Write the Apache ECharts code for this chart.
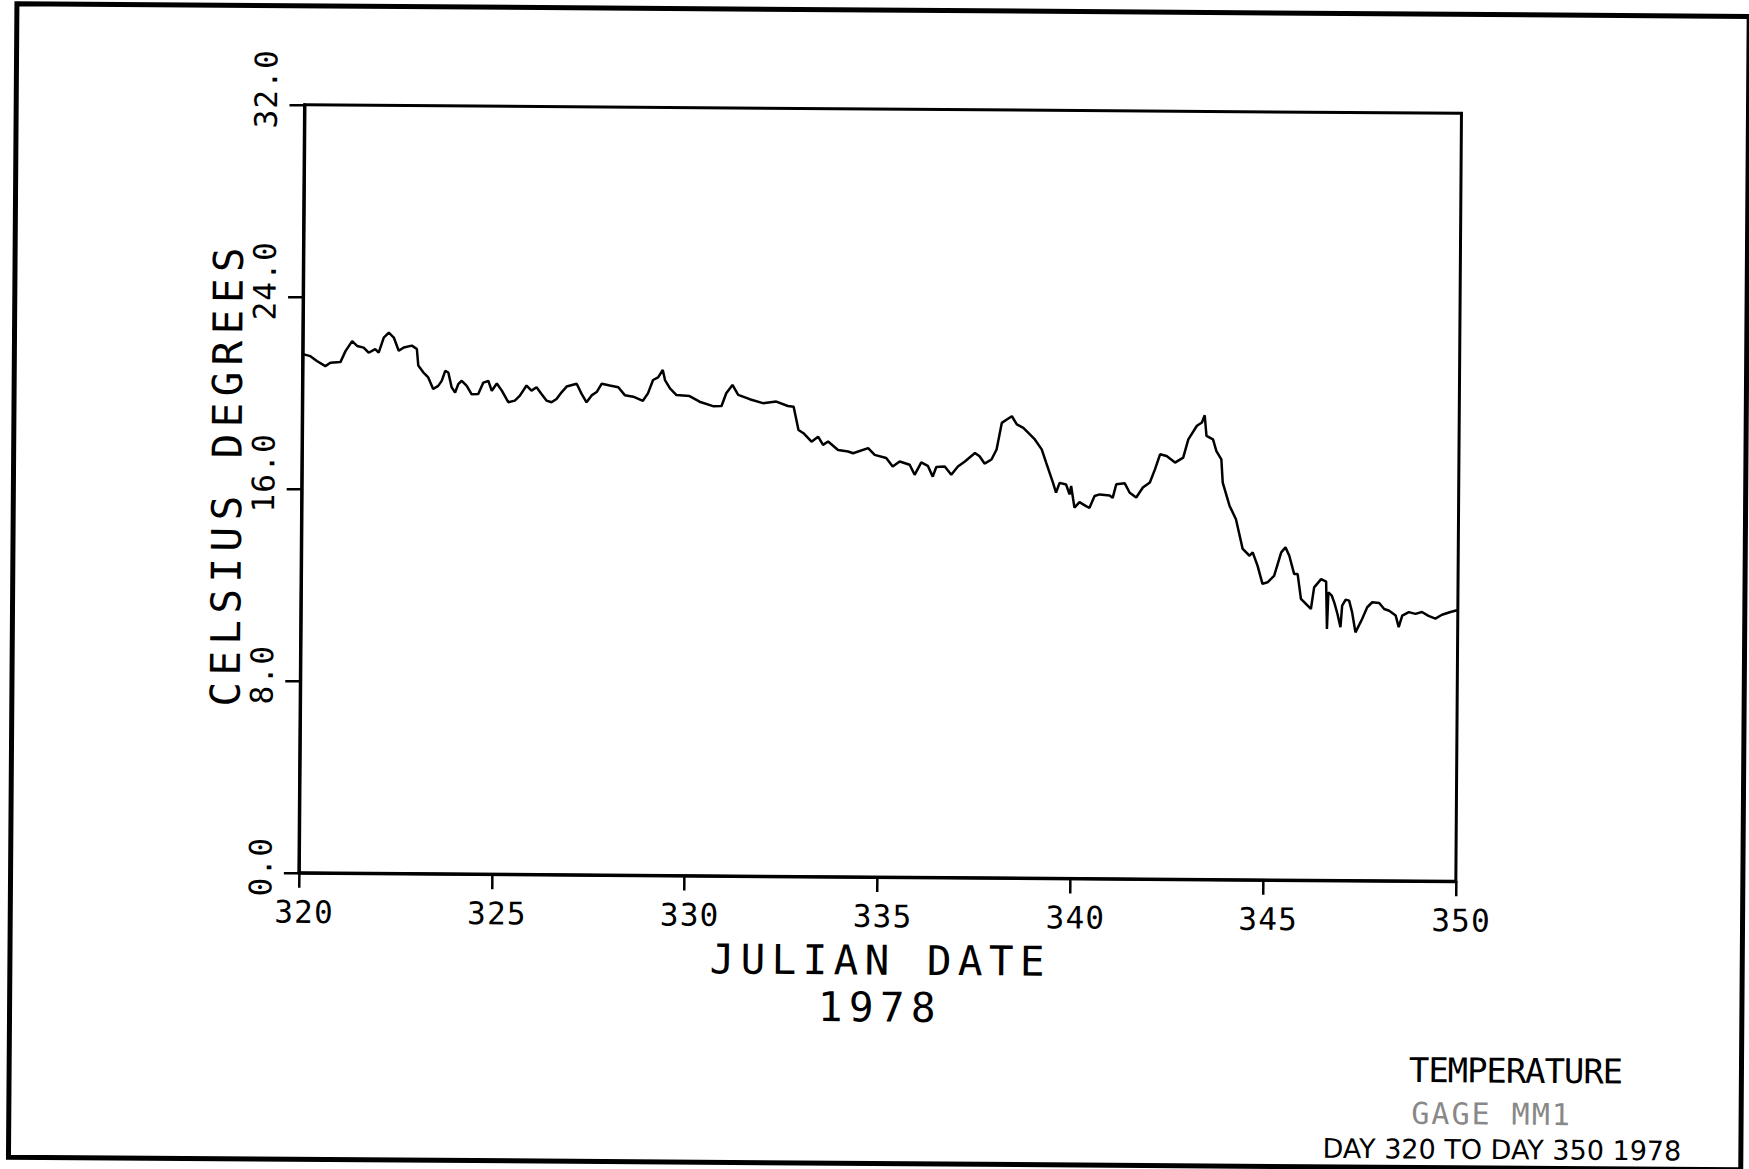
<!DOCTYPE html>
<html>
<head>
<meta charset="utf-8">
<script src="https://cdn.jsdelivr.net/npm/echarts@6/dist/echarts.min.js"></script>
<style>
html, body { margin: 0; padding: 0; background: #fff; overflow: hidden; }
#chart { width: 1749px; height: 1169px; transform: rotate(0.42deg); transform-origin: 50% 50%; }
#chart text[style*="41px"] { letter-spacing: 6.35px; }
#chart text[style*="31px"] { letter-spacing: 1.2px; }
#chart text[style*="34px"] { letter-spacing: -1.1px; }
#chart text[style*="30px"] { letter-spacing: 2px; }
</style>
</head>
<body>
<div id="chart"></div>
<script>
// ---- data ----
const days = [
  320.03, 320.2, 320.37, 320.59, 320.72, 320.98, 321.11, 321.28, 321.41, 321.58,
  321.71, 321.88, 321.97, 322.1, 322.23, 322.36, 322.49, 322.62, 322.83, 322.96,
  323.0, 323.13, 323.26, 323.39, 323.52, 323.61, 323.7, 323.78, 323.87, 323.96,
  324.04, 324.13, 324.26, 324.39, 324.56, 324.69, 324.82, 324.91, 325.04, 325.17,
  325.34, 325.51, 325.64, 325.81, 325.94, 326.07, 326.2, 326.33, 326.46, 326.59,
  326.72, 326.85, 327.11, 327.24, 327.37, 327.5, 327.63, 327.76, 327.97, 328.19,
  328.36, 328.58, 328.83, 328.96, 329.09, 329.22, 329.34, 329.4, 329.53, 329.7,
  330.04, 330.3, 330.65, 330.87, 330.99, 331.15, 331.3, 331.6, 331.94, 332.29,
  332.59, 332.74, 332.87, 333.0, 333.21, 333.38, 333.51, 333.64, 333.9, 334.16,
  334.29, 334.68, 334.85, 335.15, 335.32, 335.5, 335.76, 335.89, 336.06, 336.23,
  336.36, 336.45, 336.67, 336.84, 337.01, 337.19, 337.45, 337.57, 337.7, 337.88,
  338.01, 338.14, 338.27, 338.4, 338.53, 338.7, 339.0, 339.18, 339.3, 339.48,
  339.56, 339.65, 339.82, 339.91, 339.95, 340.04, 340.17, 340.34, 340.43, 340.56,
  340.69, 340.95, 341.03, 341.12, 341.34, 341.47, 341.64, 341.81, 341.99, 342.12,
  342.25, 342.42, 342.64, 342.85, 342.98, 343.2, 343.33, 343.4, 343.45, 343.62,
  343.71, 343.84, 343.88, 344.06, 344.23, 344.41, 344.59, 344.67, 344.8, 344.93,
  345.06, 345.23, 345.41, 345.52, 345.62, 345.75, 345.84, 345.93, 346.06, 346.19,
  346.27, 346.45, 346.58, 346.61, 346.64, 346.73, 346.8, 346.88, 346.96, 347.0,
  347.09, 347.18, 347.26, 347.35, 347.52, 347.65, 347.78, 347.96, 348.09, 348.22,
  348.39, 348.47, 348.56, 348.73, 348.9, 349.07, 349.24, 349.42, 349.59, 349.81,
  349.98
];
const temps = [
  21.6, 21.53, 21.33, 21.12, 21.26, 21.29, 21.75, 22.17, 21.97, 21.9,
  21.69, 21.84, 21.7, 22.32, 22.53, 22.33, 21.78, 21.92, 22.0, 21.86,
  21.17, 20.89, 20.68, 20.2, 20.33, 20.54, 20.96, 20.89, 20.27, 20.06,
  20.41, 20.55, 20.34, 19.99, 20.0, 20.48, 20.55, 20.14, 20.45, 20.15,
  19.67, 19.74, 19.95, 20.37, 20.16, 20.3, 20.02, 19.75, 19.68, 19.82,
  20.1, 20.34, 20.46, 20.04, 19.69, 19.98, 20.12, 20.47, 20.4, 20.33,
  20.0, 19.94, 19.77, 20.08, 20.64, 20.75, 21.06, 20.64, 20.3, 20.02,
  19.98, 19.75, 19.57, 19.58, 20.11, 20.46, 20.05, 19.87, 19.71, 19.78,
  19.6, 19.57, 18.6, 18.47, 18.12, 18.33, 17.99, 18.13, 17.78, 17.72,
  17.65, 17.87, 17.59, 17.46, 17.11, 17.32, 17.19, 16.77, 17.29, 17.15,
  16.7, 17.1, 17.13, 16.78, 17.13, 17.34, 17.7, 17.56, 17.26, 17.43,
  17.85, 18.96, 19.1, 19.24, 18.9, 18.76, 18.28, 17.87, 17.31, 16.48,
  16.07, 16.48, 16.41, 16.0, 16.35, 15.45, 15.68, 15.52, 15.45, 15.94,
  16.01, 15.97, 15.87, 16.44, 16.48, 16.09, 15.89, 16.31, 16.52, 17.07,
  17.7, 17.63, 17.36, 17.57, 18.33, 18.9, 19.04, 19.34, 18.48, 18.34,
  17.85, 17.51, 16.54, 15.58, 15.02, 13.78, 13.5, 13.64, 13.08, 12.33,
  12.4, 12.67, 13.65, 13.86, 13.51, 12.75, 12.75, 11.72, 11.51, 11.3,
  12.2, 12.55, 12.45, 10.47, 12.0, 11.86, 11.55, 11.1, 10.55, 11.45,
  11.7, 11.66, 11.17, 10.34, 10.9, 11.39, 11.6, 11.57, 11.32, 11.25,
  11.05, 10.57, 11.05, 11.2, 11.13, 11.21, 11.05, 10.94, 11.1, 11.22,
  11.29
];
const xRange = [320, 350];
const xStep = 5;
const yRange = [0, 32];
const yStep = 8;
const xTitle = 'JULIAN DATE';
const yearText = '1978';
const yTitle = 'CELSIUS DEGREES';
const noteLines = ['TEMPERATURE', 'GAGE MM1', 'DAY 320 TO DAY 350 1978'];

const FONT = 'DejaVu Sans Mono';
const chart = echarts.init(document.getElementById('chart'), null, { renderer: 'svg' });

chart.setOption({
  animation: false,
  backgroundColor: '#fff',
  grid: {
    left: 301, top: 109, width: 1157, height: 768,
    show: true, borderColor: '#000', borderWidth: 3, backgroundColor: 'transparent',
    containLabel: false, outerBoundsMode: 'none'
  },
  xAxis: {
    type: 'value', min: xRange[0], max: xRange[1], interval: xStep,
    axisLine: { show: true, onZero: false, lineStyle: { color: '#000', width: 3 } },
    axisTick: { show: true, length: 15, lineStyle: { color: '#000', width: 2.5 } },
    axisLabel: {
      color: '#000', fontFamily: FONT, fontSize: 31, margin: 23.5,
      padding: [0, 0, 0, 11], hideOverlap: false
    },
    splitLine: { show: false },
    name: xTitle + '\n' + yearText,
    nameLocation: 'middle', nameGap: 60, nameMoveOverlap: false,
    nameTextStyle: { color: '#000', fontFamily: FONT, fontSize: 41, lineHeight: 47, padding: [0, 0, 0, 7] }
  },
  yAxis: {
    type: 'value', min: yRange[0], max: yRange[1], interval: yStep,
    axisLine: { show: true, onZero: false, lineStyle: { color: '#000', width: 3 } },
    axisTick: { show: true, length: 15, lineStyle: { color: '#000', width: 2.5 } },
    axisLabel: {
      color: '#000', fontFamily: FONT, fontSize: 31, margin: 23,
      rotate: 90, align: 'left', verticalAlign: 'bottom',
      padding: [0, 0, 0, -24], hideOverlap: false,
      formatter: function (v) { return v.toFixed(1); }
    },
    splitLine: { show: false },
    name: yTitle, nameLocation: 'middle', nameRotate: 90, nameGap: 54, nameMoveOverlap: false,
    nameTextStyle: { color: '#000', fontFamily: FONT, fontSize: 41, padding: [0, 0, 0, 28.6] }
  },
  graphic: [
    { type: 'rect', shape: { x: 12.7, y: 10, width: 1732.3, height: 1153.5 },
      style: { fill: 'none', stroke: '#000', lineWidth: 5 }, silent: true },
    { type: 'text', x: 1519, y: 1066,
      style: { text: noteLines[0], font: '34px ' + FONT, fill: '#000', align: 'center', verticalAlign: 'middle' } },
    { type: 'text', x: 1495.5, y: 1109.4,
      style: { text: noteLines[1], font: '30px ' + FONT, fill: '#888', align: 'center', verticalAlign: 'middle' } },
    { type: 'text', x: 1506, y: 1145,
      style: { text: noteLines[2], font: '27px DejaVu Sans', fill: '#000', align: 'center', verticalAlign: 'middle' } }
  ],
  series: [{
    type: 'line',
    data: days.map(function (d, i) { return [d, temps[i]]; }),
    showSymbol: false, symbol: 'none',
    lineStyle: { color: '#000', width: 2.5 },
    clip: false
  }]
});
</script>
</body>
</html>
